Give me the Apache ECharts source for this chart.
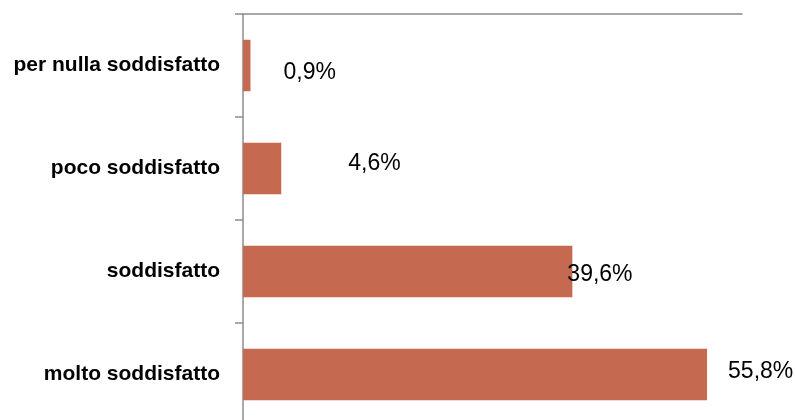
<!DOCTYPE html>
<html>
<head>
<meta charset="utf-8">
<script src="https://cdn.jsdelivr.net/npm/echarts@6/dist/echarts.min.js"></script>
<style>
  html, body { margin: 0; padding: 0; background: #fff; overflow: hidden; }
  #chart { width: 795px; height: 430px; }
</style>
</head>
<body>
<div id="chart"></div>
<script>
// Livello di soddisfazione (percentuali)
const categories = ['per nulla soddisfatto', 'poco soddisfatto', 'soddisfatto', 'molto soddisfatto'];
const values = [0.9, 4.6, 39.6, 55.8];

// Nudges for each value label, relative to the end of its bar
const labelNudges = [[33, 7], [67, -5], [-5, 3.5], [21, -2.5]];

const chart = echarts.init(document.getElementById('chart'));

const fmt = v => v.toFixed(1).replace('.', ',') + '%';

chart.setOption({
  animation: false,
  grid: { left: 243, right: 53, top: 14, bottom: 4, containLabel: false },
  xAxis: {
    type: 'value',
    position: 'top',
    min: 0,
    max: 60,
    axisLine: { show: true, lineStyle: { color: '#8c8c8c', width: 1.5 } },
    axisTick: { show: false },
    axisLabel: { show: false },
    splitLine: { show: false }
  },
  yAxis: {
    type: 'category',
    inverse: true,
    data: categories,
    axisLine: { show: true, lineStyle: { color: '#8c8c8c', width: 1.5 } },
    axisTick: { show: true, length: 8, lineStyle: { color: '#8c8c8c', width: 1.5 } },
    axisLabel: {
      margin: 23,
      color: '#000',
      fontFamily: 'Liberation Sans',
      fontWeight: 'bold',
      fontSize: 21
    }
  },
  series: [{
    type: 'bar',
    barWidth: '50%',
    data: values.map((v, i) => ({
      value: v,
      label: { offset: labelNudges[i] }
    })),
    itemStyle: { color: '#C56950' },
    label: {
      show: true,
      position: 'right',
      distance: 0,
      color: '#000',
      fontFamily: 'Liberation Sans',
      fontSize: 23,
      formatter: p => fmt(p.value)
    }
  }]
});
</script>
</body>
</html>
